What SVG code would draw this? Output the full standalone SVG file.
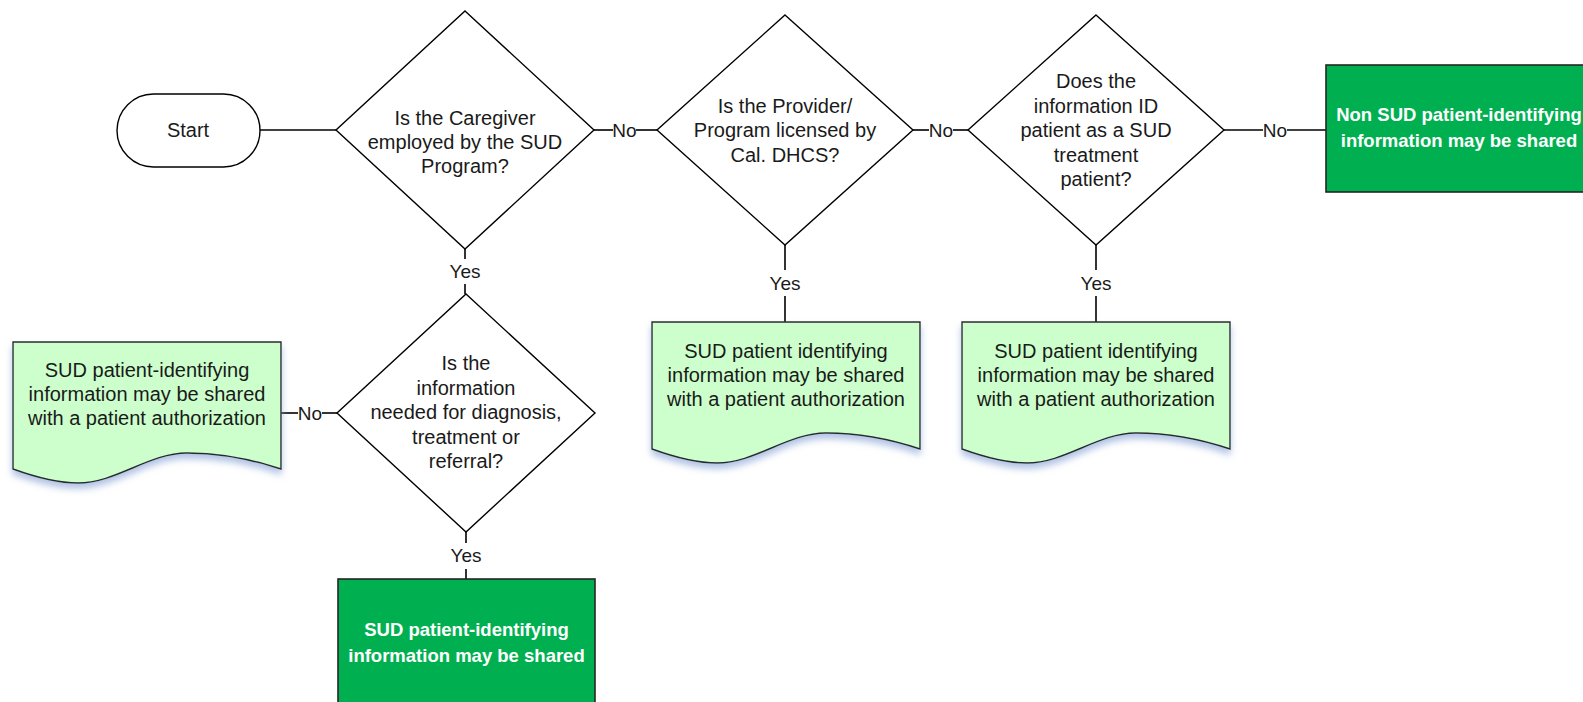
<svg xmlns="http://www.w3.org/2000/svg" xmlns:xlink="http://www.w3.org/1999/xlink" width="1583" height="702" viewBox="0 0 1583 702">
<style>
  .shape { fill: #ffffff; stroke: #000000; stroke-width: 1.4; }
  .doc { fill: #ccffcc; stroke: #2b2b2b; stroke-width: 1.4; filter: url(#shadow); }
  .outbox { fill: #00b050; stroke: #262626; stroke-width: 1.6; }
  .conn { stroke: #000000; stroke-width: 1.6; fill: none; }
  text { font-family: "Liberation Sans", Arial, sans-serif; font-size: 20px; fill: #1a1a1a; text-anchor: middle; }
  .lbl { font-size: 19px; }
  .bold { font-weight: bold; font-size: 18.5px; fill: #ffffff; }
</style>
<defs>
  <filter id="shadow" x="-10%" y="-10%" width="120%" height="130%">
    <feDropShadow dx="0" dy="5" stdDeviation="3.5" flood-color="#8fa9d8" flood-opacity="0.7"/>
  </filter>
  <path id="docpath" d="M0,0 H268 V127 C238,117 206,111 174,111 C136,111 103,141 65,141 C45,141 22,135 0,127 Z"/>
</defs>

<g id="connectors">
  <line class="conn" x1="260" y1="130" x2="336" y2="130"/>
  <line class="conn" x1="594" y1="130" x2="613" y2="130"/>
  <line class="conn" x1="636" y1="130" x2="657" y2="130"/>
  <text class="lbl" x="624.5" y="137">No</text>
  <line class="conn" x1="913" y1="130" x2="929" y2="130"/>
  <line class="conn" x1="953" y1="130" x2="968" y2="130"/>
  <text class="lbl" x="941" y="137">No</text>
  <line class="conn" x1="1224" y1="130" x2="1263" y2="130"/>
  <line class="conn" x1="1287" y1="130" x2="1326" y2="130"/>
  <text class="lbl" x="1275" y="137">No</text>
  <line class="conn" x1="465" y1="249" x2="465" y2="259"/>
  <line class="conn" x1="465" y1="284" x2="465" y2="294"/>
  <text class="lbl" x="465" y="278">Yes</text>
  <line class="conn" x1="785" y1="245" x2="785" y2="270"/>
  <line class="conn" x1="785" y1="296" x2="785" y2="322"/>
  <text class="lbl" x="785" y="290">Yes</text>
  <line class="conn" x1="1096" y1="245" x2="1096" y2="270"/>
  <line class="conn" x1="1096" y1="296" x2="1096" y2="322"/>
  <text class="lbl" x="1096" y="290">Yes</text>
  <line class="conn" x1="337" y1="413" x2="322" y2="413"/>
  <line class="conn" x1="298" y1="413" x2="281" y2="413"/>
  <text class="lbl" x="310" y="420">No</text>
  <line class="conn" x1="466" y1="532" x2="466" y2="543"/>
  <line class="conn" x1="466" y1="569" x2="466" y2="579"/>
  <text class="lbl" x="466" y="562">Yes</text>
</g>

<g id="start">
  <rect class="shape" x="117" y="94" width="143" height="73" rx="36.5" ry="36.5"/>
  <text x="188" y="137">Start</text>
</g>

<g id="q1">
  <polygon class="shape" points="465,11 594,130 465,249 336,130"/>
  <text x="465" y="125">Is the Caregiver</text>
  <text x="465" y="149">employed by the SUD</text>
  <text x="465" y="173">Program?</text>
</g>

<g id="q2">
  <polygon class="shape" points="785,15 913,130 785,245 657,130"/>
  <text x="785" y="112.5">Is the Provider/</text>
  <text x="785" y="137">Program licensed by</text>
  <text x="785" y="161.5">Cal. DHCS?</text>
</g>

<g id="q3">
  <polygon class="shape" points="1096,15 1224,130 1096,245 968,130"/>
  <text x="1096" y="88">Does the</text>
  <text x="1096" y="112.5">information ID</text>
  <text x="1096" y="137">patient as a SUD</text>
  <text x="1096" y="161.5">treatment</text>
  <text x="1096" y="186">patient?</text>
</g>

<g id="q4">
  <polygon class="shape" points="466,294 595,413 466,532 337,413"/>
  <text x="466" y="370">Is the</text>
  <text x="466" y="394.5">information</text>
  <text x="466" y="419">needed for diagnosis,</text>
  <text x="466" y="443.5">treatment or</text>
  <text x="466" y="468">referral?</text>
</g>

<g id="nonsud">
  <rect class="outbox" x="1326" y="65" width="266" height="127"/>
  <text class="bold" x="1459" y="121">Non SUD patient-identifying</text>
  <text class="bold" x="1459" y="147">information may be shared</text>
</g>

<g id="doc-left">
  <use xlink:href="#docpath" href="#docpath" class="doc" x="13" y="342"/>
  <text x="147" y="377">SUD patient-identifying</text>
  <text x="147" y="401">information may be shared</text>
  <text x="147" y="425">with a patient authorization</text>
</g>

<g id="doc-mid">
  <use xlink:href="#docpath" href="#docpath" class="doc" x="652" y="322"/>
  <text x="786" y="358">SUD patient identifying</text>
  <text x="786" y="382">information may be shared</text>
  <text x="786" y="406">with a patient authorization</text>
</g>

<g id="doc-right">
  <use xlink:href="#docpath" href="#docpath" class="doc" x="962" y="322"/>
  <text x="1096" y="358">SUD patient identifying</text>
  <text x="1096" y="382">information may be shared</text>
  <text x="1096" y="406">with a patient authorization</text>
</g>

<g id="shared">
  <rect class="outbox" x="338" y="579" width="257" height="140"/>
  <text class="bold" x="466.5" y="636">SUD patient-identifying</text>
  <text class="bold" x="466.5" y="661.5">information may be shared</text>
</g>
</svg>
